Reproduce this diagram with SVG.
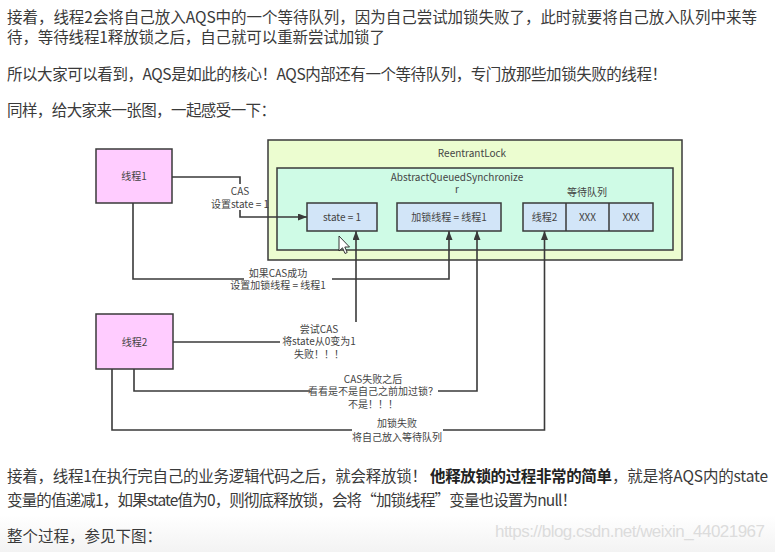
<svg xmlns="http://www.w3.org/2000/svg" width="775" height="552" viewBox="0 0 775 552">
<defs>
<style>
.p{font-family:"Noto Sans CJK SC","Noto Sans",sans-serif;font-size:15.5px;fill:#3a3a3a}
.b{font-weight:bold;fill:#222}
.d{font-family:"Noto Sans CJK SC","Noto Sans",sans-serif;font-size:10px;fill:#444;text-anchor:middle}
.box{stroke:#3a3a3a;stroke-width:1.5}
.th{fill:#ffccff}
.cell{fill:#d2e5f8}
.ln{fill:none;stroke:#3a3a3a;stroke-width:1.6}
.wm{font-family:"Liberation Sans",Arial,sans-serif;font-size:17px;fill:#dcdcdc}
</style>
<marker id="ah" markerUnits="userSpaceOnUse" markerWidth="9" markerHeight="7" refX="9" refY="3.5" orient="auto">
<path d="M0,0 L9,3.5 L0,7 z" fill="#3a3a3a"/>
</marker>
<linearGradient id="fade" x1="0" y1="0" x2="0" y2="1">
<stop offset="0" stop-color="#ffffff"/>
<stop offset="1" stop-color="#f3f3f3"/>
</linearGradient>
</defs>
<rect width="775" height="552" fill="#ffffff"/>
<rect x="0" y="515" width="775" height="37" fill="url(#fade)"/>

<g id="text-top">
<text class="p" x="7" y="23" textLength="750">接着，线程2会将自己放入AQS中的一个等待队列，因为自己尝试加锁失败了，此时就要将自己放入队列中来等</text>
<text class="p" x="7" y="43" textLength="378">待，等待线程1释放锁之后，自己就可以重新尝试加锁了</text>
<text class="p" x="7" y="80" textLength="660">所以大家可以看到，AQS是如此的核心！AQS内部还有一个等待队列，专门放那些加锁失败的线程！</text>
<text class="p" x="7" y="116" textLength="269">同样，给大家来一张图，一起感受一下：</text>
</g>

<g id="reentrantlock">
<rect class="box" x="268" y="140" width="414" height="120" fill="#ecfdd0"/>
<text class="d" x="472" y="157">ReentrantLock</text>
</g>
<g id="aqs">
<rect class="box" x="277" y="168" width="396" height="82" fill="#cffbe6"/>
<text class="d" x="457" y="181">AbstractQueuedSynchronize</text>
<text class="d" x="457" y="193">r</text>
</g>
<g id="state">
<rect class="box cell" x="307" y="203" width="70" height="28"/>
<text class="d" x="342" y="221">state = 1</text>
</g>
<g id="lock-holder">
<rect class="box cell" x="397" y="203" width="104" height="28"/>
<text class="d" x="449" y="221">加锁线程 = 线程1</text>
</g>
<g id="wait-queue">
<text class="d" x="587" y="196">等待队列</text>
<rect class="box cell" x="523" y="203" width="130" height="28"/>
<line class="box" x1="566" y1="203" x2="566" y2="231"/>
<line class="box" x1="609" y1="203" x2="609" y2="231"/>
<text class="d" x="544.5" y="221">线程2</text>
<text class="d" x="587.5" y="221">XXX</text>
<text class="d" x="631" y="221">XXX</text>
</g>
<g id="thread1">
<rect class="box th" x="96" y="149" width="76" height="54"/>
<text class="d" x="134" y="180">线程1</text>
</g>
<g id="thread2">
<rect class="box th" x="96" y="314" width="77" height="55"/>
<text class="d" x="134.5" y="346">线程2</text>
</g>

<g id="connectors">
<path class="ln" d="M172,177 H240 V184"/>
<path class="ln" d="M240,210 V217 H307" marker-end="url(#ah)"/>
<path class="ln" d="M133,203 V279 H244"/>
<path class="ln" d="M332,279 H449 V231" marker-end="url(#ah)"/>
<path class="ln" d="M173,342 H280"/>
<path class="ln" d="M356,322 V231" marker-end="url(#ah)"/>
<path class="ln" d="M134,369 V391 H310"/>
<path class="ln" d="M438,391 H477 V231" marker-end="url(#ah)"/>
<path class="ln" d="M112,369 V430 H352"/>
<path class="ln" d="M443,430 H544.5 V231" marker-end="url(#ah)"/>
</g>

<g id="connector-labels">
<text class="d" x="240" y="195">CAS</text>
<text class="d" x="240" y="208">设置state = 1</text>
<text class="d" x="278" y="276.5">如果CAS成功</text>
<text class="d" x="278" y="289">设置加锁线程 = 线程1</text>
<text class="d" x="319" y="332.5">尝试CAS</text>
<text class="d" x="319" y="345">将state从0变为1</text>
<text class="d" x="319" y="357.5">失败！！！</text>
<text class="d" x="373" y="382.5">CAS失败之后</text>
<text class="d" x="373" y="395">看看是不是自己之前加过锁？</text>
<text class="d" x="373" y="407.5">不是！！！</text>
<text class="d" x="397" y="427">加锁失败</text>
<text class="d" x="397" y="441">将自己放入等待队列</text>
</g>

<g id="cursor">
<path d="M339,236 L339,251 L342.5,247.8 L345,253.5 L347.2,252.5 L344.8,247 L349.5,247 Z" fill="#ffffff" stroke="#222" stroke-width="0.9" stroke-linejoin="round"/>
</g>

<g id="text-bottom">
<text class="p" x="7" y="482" textLength="420">接着，线程1在执行完自己的业务逻辑代码之后，就会释放锁！</text>
<text class="p b" x="430" y="482" textLength="182">他释放锁的过程非常的简单</text>
<text class="p" x="612" y="482" textLength="156">，就是将AQS内的state</text>
<text class="p" x="7" y="506" textLength="570">变量的值递减1，如果state值为0，则彻底释放锁，会将“加锁线程”变量也设置为null！</text>
<text class="p" x="7" y="542" textLength="155">整个过程，参见下图：</text>
<text class="wm" x="495" y="537" textLength="270">https://blog.csdn.net/weixin_44021967</text>
</g>
</svg>
